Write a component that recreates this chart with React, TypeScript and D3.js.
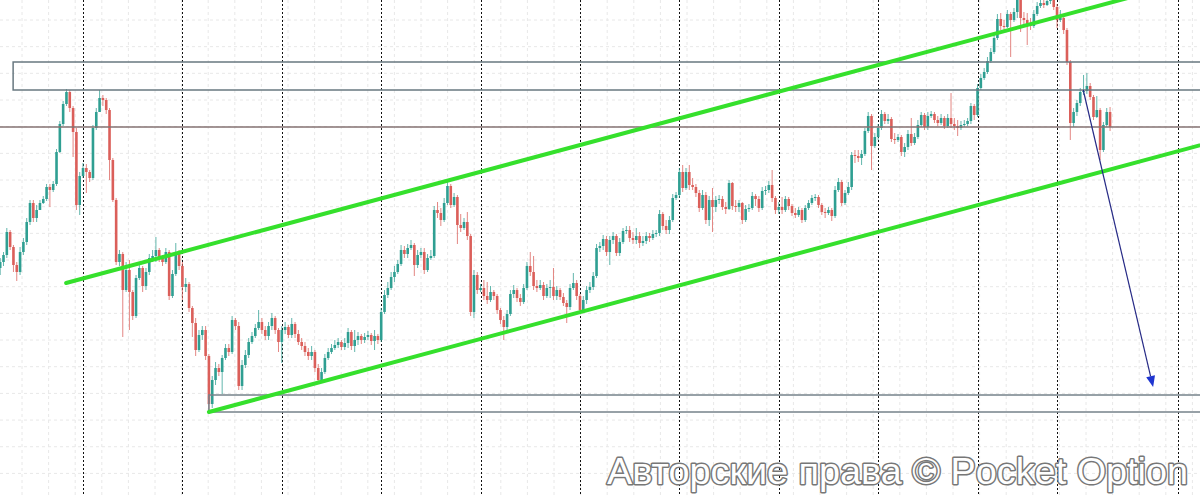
import React from 'react';
import * as d3 from 'd3';

const W = 1200;
const H = 495;

// Prices in pips above base; each candle: [high, low, close]; open = previous close
const firstOpen = 232;
const day0 = [[242,225,238],[248,234,245],[272,242,268],[270,250,253],[255,228,235],[238,219,228],[253,225,248],[262,245,258],[282,255,278],[300,275,297],[300,278,282],[295,278,290],[300,292,297],[304,296,301],[316,299,313],[316,293,310],[319,308,316],[351,314,348],[379,347,376],[399,374,396],[411,394,408],[410,388,392],[394,343,368],[372,290,295],[328,285,324]];
const day1 = [[337,322,332],[336,307,328],[330,318,322],[375,320,372],[392,370,388],[410,388,402],[405,394,400],[402,386,390],[392,320,340],[342,298,300],[302,235,238],[250,234,246],[248,163,210],[238,208,230],[240,170,208],[210,180,184],[225,182,222],[235,220,232],[234,208,214],[232,210,228],[246,225,242],[250,238,244],[263,238,250],[252,238,242],[245,234,238],[252,236,248],[250,200,204],[230,202,226],[257,224,246],[250,230,234]];
const day2 = [[238,200,213],[222,208,216],[218,188,192],[194,163,177],[182,144,150],[170,148,165],[174,160,170],[174,140,144],[146,88,96],[124,92,120],[138,115,132],[136,124,128],[145,106,142],[156,140,152],[156,144,148],[184,146,180],[182,170,174],[178,110,114],[140,110,135],[150,132,145],[162,142,158],[168,156,164],[176,162,172],[190,170,178],[182,166,170],[174,160,164],[178,160,174],[187,170,182],[184,166,170],[172,148,158]];
const day3 = [[174,137,170],[178,166,173],[175,162,165],[182,162,176],[178,162,166],[170,155,158],[162,150,154],[158,144,148],[152,140,144],[154,140,148],[150,128,132],[136,116,120],[132,118,128],[146,126,142],[152,140,148],[156,146,152],[160,150,155],[162,152,158],[160,150,153],[162,150,157],[172,152,168],[170,150,154],[170,148,160],[168,155,164],[166,156,160],[167,157,163],[169,160,165],[167,155,159],[170,150,164],[166,156,160]];
const day4 = [[192,158,188],[210,186,205],[218,202,212],[228,210,223],[234,218,228],[240,226,236],[255,234,250],[254,242,246],[256,242,252],[260,250,255],[257,224,235],[250,232,245],[252,242,248],[252,226,230],[246,228,242],[250,240,244],[294,242,290],[298,282,287],[292,274,280],[302,278,297],[318,295,314],[316,292,295],[307,293,303],[305,256,275],[286,268,272],[282,270,278],[288,260,264],[266,184,188],[230,182,225],[228,206,210]];
const day5 = [[216,208,212],[220,200,204],[218,196,200],[214,198,208],[210,200,204],[206,186,190],[192,176,180],[184,160,173],[190,170,186],[210,184,206],[215,202,210],[212,198,202],[206,194,198],[216,196,212],[238,210,234],[248,224,228],[244,210,214],[220,208,212],[220,210,215],[218,200,204],[216,202,212],[220,202,213],[232,200,204],[214,200,210],[212,200,203],[207,194,197],[200,177,193],[216,190,212],[227,210,217],[220,200,204]];
const day6 = [[206,186,190],[204,187,200],[214,196,210],[218,207,213],[228,210,224],[256,222,252],[258,248,254],[265,250,261],[264,244,248],[264,235,260],[268,256,264],[266,244,247],[262,244,258],[272,256,269],[274,266,270],[274,258,262],[268,256,260],[272,256,264],[268,252,257],[264,254,259],[268,256,264],[267,258,262],[270,260,266],[270,263,267],[290,264,286],[288,270,274],[280,266,270],[284,266,280],[306,278,302],[308,300,305]];
const day7 = [[332,302,328],[335,308,312],[332,310,328],[335,310,315],[322,310,313],[316,303,307],[310,288,292],[310,290,305],[308,276,280],[304,274,300],[312,268,293],[304,288,300],[305,296,301],[304,290,293],[298,286,291],[320,290,317],[318,290,294],[300,288,293],[300,288,297],[298,276,280],[295,278,291],[296,288,292],[308,290,304],[306,294,301],[304,288,292],[313,290,309],[314,305,310],[319,307,315],[330,298,302],[304,286,290]];
const day8 = [[298,286,293],[303,286,290],[304,288,301],[303,290,294],[296,284,287],[292,282,285],[293,283,290],[292,277,280],[295,278,292],[300,290,297],[305,295,302],[306,299,303],[305,292,295],[297,285,288],[292,282,287],[293,285,290],[292,279,284],[314,282,310],[322,308,318],[320,294,297],[310,295,307],[318,305,313],[348,310,345],[350,337,344],[350,338,342],[350,335,346],[372,344,369],[388,367,384],[386,330,354],[367,352,363]];
const day9 = [[376,360,372],[390,370,386],[388,376,379],[386,376,381],[383,358,361],[367,356,360],[366,358,363],[365,344,348],[357,343,353],[370,350,366],[382,354,357],[367,355,363],[380,361,375],[388,373,385],[387,370,373],[388,370,384],[389,382,386],[388,377,380],[384,374,377],[386,375,382],[384,371,374],[386,372,382],[407,372,376],[382,370,374],[380,364,372],[379,370,375],[380,373,376],[382,374,379],[397,376,394],[396,380,385]];
const day10 = [[416,383,412],[426,410,422],[432,420,428],[443,426,439],[452,437,448],[466,446,462],[486,460,481],[487,470,474],[480,468,473],[490,472,486],[488,443,480],[492,478,488],[504,482,500],[502,468,482],[488,476,480],[487,455,475],[482,470,474],[490,472,486],[498,484,494],[502,492,497],[500,492,495],[503,494,499],[504,496,501],[503,490,493]];
const day11 = [[496,472,480],[490,478,482],[486,466,470],[472,435,438],[440,360,377],[392,373,388],[400,384,397],[412,394,408],[425,405,409],[427,406,414],[417,400,403],[405,380,383],[404,382,390],[392,340,350],[378,348,375],[392,373,388],[393,369,373]];

// Day separators (candle index)
const separators = [25, 55, 85, 115, 145, 175, 205, 235, 265, 295, 319, 355.5];

// Annotations in [candle index, price]
const resistanceBox = [[3.9, 410], [420, 438]];
const supportLevel = 373;
const bottomBox = [[63, 88], [420, 105]];
const upperTrend = [[19.9, 217], [350, 510.6]];
const lowerTrend = [[63, 88], [370, 361.7]];
const forecastArrow = [[326.9, 410], [348.0, 113]];

const watermark = 'Авторские права © Pocket Option';

const BULL = '#2f9f92';
const BEAR = '#db5f5a';

export default function App() {
  const days = [day0, day1, day2, day3, day4, day5, day6, day7, day8, day9, day10, day11];
  const flat = days.flat();
  const candles = flat.map((d, i) => {
    const o = i === 0 ? firstOpen : flat[i - 1][2];
    const c = d[2];
    return { i, o, c, h: Math.max(d[0], o, c), l: Math.min(d[1], o, c) };
  });

  const x = d3.scaleLinear().domain([0, 335]).range([0.2, 0.2 + 335 * 3.313]);
  const y = d3.scaleLinear().domain([0, 500]).range([500, 0]);

  const gridH = d3.range(20, H, 26.67);
  const gridV = d3.range(22, W, 26.6);

  const line = d3.line<number[]>().x(d => x(d[0])).y(d => y(d[1]));

  const bw = 2.6;

  const a0 = forecastArrow[0];
  const a1 = forecastArrow[1];
  const ax0 = x(a0[0]), ay0 = y(a0[1]), ax1 = x(a1[0]), ay1 = y(a1[1]);
  const ang = Math.atan2(ay1 - ay0, ax1 - ax0);
  const hl = 11, hw = 4.5;
  const bx = ax1 - hl * Math.cos(ang), by = ay1 - hl * Math.sin(ang);
  const head = `M${ax1},${ay1} L${bx + hw * Math.sin(ang)},${by - hw * Math.cos(ang)} L${bx - hw * Math.sin(ang)},${by + hw * Math.cos(ang)} Z`;

  return (
    <svg width={W} height={H} style={{ position: 'absolute', left: 0, top: 0, background: '#fff' }}>
      <rect x={0} y={0} width={W} height={H} fill="#ffffff" />
      <g stroke="#e8e8e8" strokeWidth={1} strokeDasharray="3,3">
        {gridH.map((gy, i) => <line key={'h' + i} x1={0} x2={W} y1={gy} y2={gy} />)}
        {gridV.map((gx, i) => <line key={'v' + i} x1={gx} x2={gx} y1={0} y2={H} />)}
      </g>
      <g stroke="#111" strokeWidth={1} strokeDasharray="2,2">
        {separators.map((s, i) => <line key={i} x1={Math.round(x(s)) + 0.5} x2={Math.round(x(s)) + 0.5} y1={0} y2={H} />)}
      </g>
      <g>
        {candles.map(cd => {
          const cx = x(cd.i);
          const col = cd.c < cd.o ? BEAR : BULL;
          const top = y(Math.max(cd.o, cd.c));
          const bot = y(Math.min(cd.o, cd.c));
          return (
            <g key={cd.i}>
              <line x1={cx} x2={cx} y1={y(cd.h)} y2={y(cd.l)} stroke={col} strokeWidth={1} opacity={0.75} />
              <rect x={cx - bw / 2} y={top} width={bw} height={Math.max(1, bot - top)} fill={col} />
            </g>
          );
        })}
      </g>
      <rect x={x(resistanceBox[0][0])} y={y(resistanceBox[1][1])} width={x(resistanceBox[1][0]) - x(resistanceBox[0][0])} height={y(resistanceBox[0][1]) - y(resistanceBox[1][1])} fill="none" stroke="#687880" strokeWidth={1.5} />
      <line x1={0} x2={W} y1={y(supportLevel)} y2={y(supportLevel)} stroke="#857272" strokeWidth={1.5} />
      <rect x={x(bottomBox[0][0])} y={y(bottomBox[1][1])} width={x(bottomBox[1][0]) - x(bottomBox[0][0])} height={y(bottomBox[0][1]) - y(bottomBox[1][1])} fill="none" stroke="#76828a" strokeWidth={1.5} />
      <path d={line(upperTrend) || ''} stroke="#35e02c" strokeWidth={4} fill="none" strokeLinecap="round" />
      <path d={line(lowerTrend) || ''} stroke="#35e02c" strokeWidth={4} fill="none" strokeLinecap="round" />
      <line x1={ax0} y1={ay0} x2={bx} y2={by} stroke="#262a86" strokeWidth={1.2} />
      <path d={head} fill="#1f35d0" />
      <text x={1188} y={484} textAnchor="end" fontFamily="'Liberation Sans', Arial, sans-serif" fontSize={37.8} fill="#ffffff" stroke="#777777" strokeWidth={3} paintOrder="stroke" strokeLinejoin="round">{watermark}</text>
    </svg>
  );
}
